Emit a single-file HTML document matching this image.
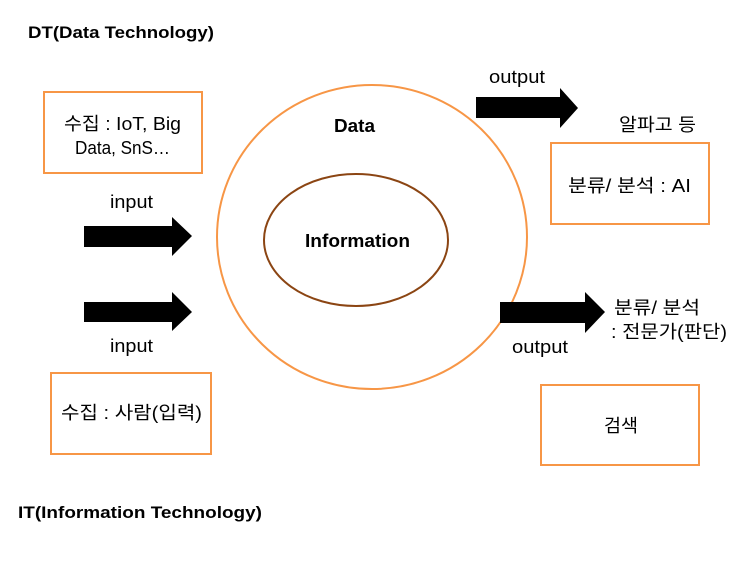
<!DOCTYPE html>
<html><head><meta charset="utf-8"><style>
body{margin:0;background:#fff;}
svg text{font-family:"Liberation Sans","Noto Sans CJK KR",sans-serif;fill:#000;}
</style></head><body>
<svg width="743" height="557" viewBox="0 0 743 557" xmlns="http://www.w3.org/2000/svg">
<text x="28" y="38" font-size="17" font-weight="bold" textLength="186" lengthAdjust="spacingAndGlyphs">DT(Data Technology)</text>
<text x="18" y="518" font-size="17" font-weight="bold" textLength="244" lengthAdjust="spacingAndGlyphs">IT(Information Technology)</text>
<g fill="none" stroke="#f79646" stroke-width="2">
<rect x="44" y="92" width="158" height="81"/>
<rect x="551" y="143" width="158" height="81"/>
<rect x="51" y="373" width="160" height="81"/>
<rect x="541" y="385" width="158" height="80"/>
<ellipse cx="372" cy="237" rx="155" ry="152"/>
</g>
<ellipse cx="356" cy="240" rx="92" ry="66" fill="none" stroke="#8b4513" stroke-width="2"/>
<g fill="#000">
<polygon points="84,226 172,226 172,217 192,236 172,256 172,247 84,247"/>
<polygon points="84,302 172,302 172,292 192,312 172,331 172,322 84,322"/>
<polygon points="476,97 560,97 560,88 578,108 560,128 560,118 476,118"/>
<polygon points="500,302 585,302 585,292 605,312 585,333 585,323 500,323"/>
</g>
<g font-size="18" lengthAdjust="spacingAndGlyphs">
<text x="64" y="130" textLength="117" lengthAdjust="spacingAndGlyphs">수집 : IoT, Big</text>
<text x="75" y="154" textLength="95" lengthAdjust="spacingAndGlyphs">Data, SnS…</text>
<text x="110" y="208" textLength="43" lengthAdjust="spacingAndGlyphs">input</text>
<text x="110" y="352" textLength="43" lengthAdjust="spacingAndGlyphs">input</text>
<text x="61" y="419" textLength="141" lengthAdjust="spacingAndGlyphs">수집 : 사람(입력)</text>
<text x="489" y="83" textLength="56" lengthAdjust="spacingAndGlyphs">output</text>
<text x="512" y="353" textLength="56" lengthAdjust="spacingAndGlyphs">output</text>
<text x="619" y="131" textLength="77" lengthAdjust="spacingAndGlyphs">알파고 등</text>
<text x="568" y="192" textLength="123" lengthAdjust="spacingAndGlyphs">분류/ 분석 : AI</text>
<text x="614" y="314" textLength="86" lengthAdjust="spacingAndGlyphs">분류/ 분석</text>
<text x="611" y="338" textLength="116" lengthAdjust="spacingAndGlyphs">: 전문가(판단)</text>
<text x="604" y="432" textLength="34" lengthAdjust="spacingAndGlyphs">검색</text>
<text x="334" y="132" font-weight="bold" textLength="41" lengthAdjust="spacingAndGlyphs">Data</text>
<text x="305" y="247" font-weight="bold" textLength="105" lengthAdjust="spacingAndGlyphs">Information</text>
</g>
</svg>
</body></html>
